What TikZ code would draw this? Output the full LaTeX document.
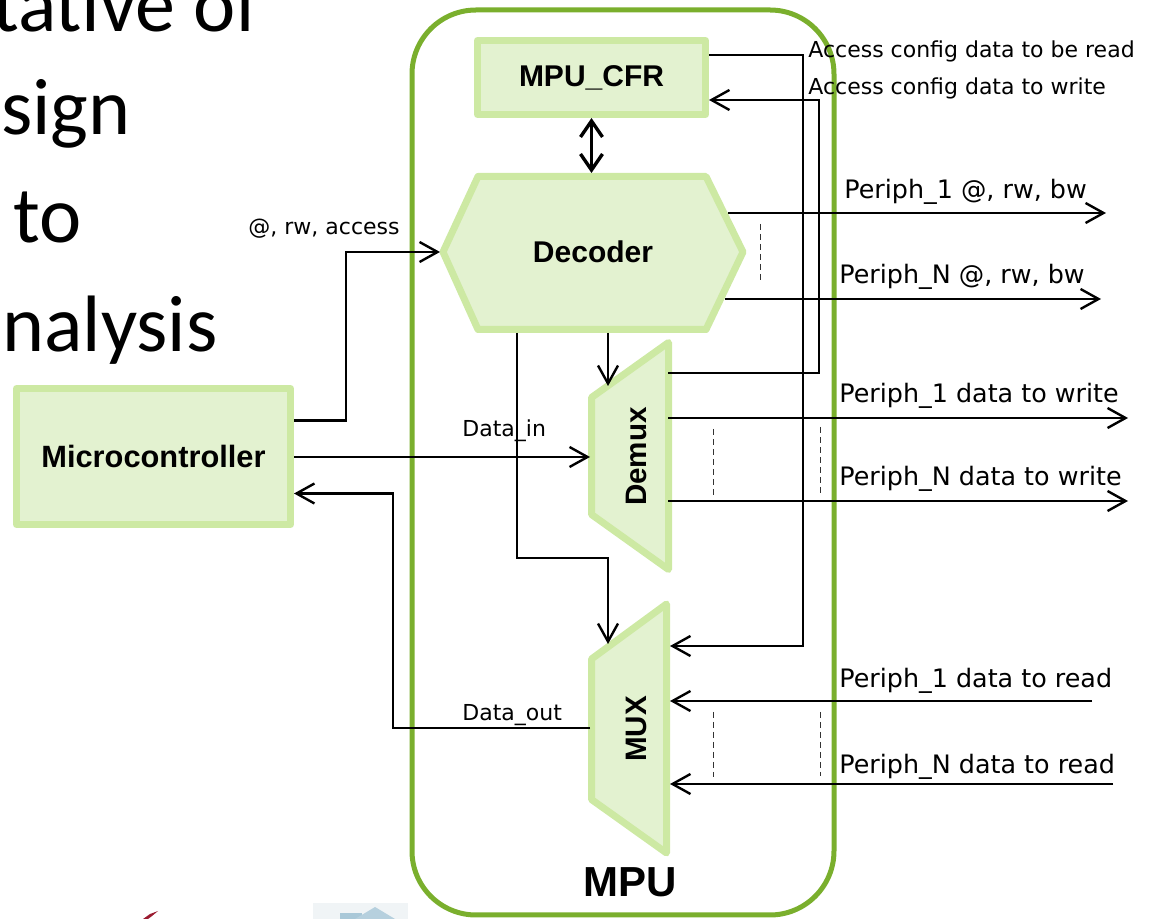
\documentclass[tikz,border=0pt]{standalone}
\usepackage{fontspec}
\setmainfont{DejaVu Sans}
\newfontfamily\arialf{Liberation Sans}
\newfontfamily\slidefont{Carlito}
\usetikzlibrary{arrows.meta}
\definecolor{mpugreen}{HTML}{7AAF2D}
\definecolor{boxfill}{HTML}{E3F2D0}
\definecolor{boxedge}{HTML}{CDE9A3}
\definecolor{logobg}{HTML}{F0F4F6}
\definecolor{logoblue}{HTML}{A9C8D8}
\definecolor{logored}{HTML}{9B1B30}
\tikzset{
  blk/.style={line width=1.2pt, draw=black},
  arr/.style={blk, -{Straight Barb[length=9pt,width=10pt]}},
  dbl/.style={line width=1.7pt, draw=black, {Straight Barb[length=8pt,width=11pt]}-{Straight Barb[length=8pt,width=11pt]}},
  shapebox/.style={fill=boxfill, draw=boxedge, line width=3.5pt, line join=round},
  boxtext/.style={font=\arialf\bfseries\fontsize{15}{18}\selectfont, inner sep=0pt},
  lbl/.style={font=\fontsize{11}{13}\selectfont, inner sep=0pt},
  plbl/.style={font=\fontsize{12.7}{15}\selectfont, inner sep=0pt},
  slide/.style={font=\slidefont\fontsize{40}{48}\selectfont, inner sep=0pt, anchor=base west},
  dashsty/.style={line width=0.5pt, draw=black!80, dash pattern=on 3pt off 2pt},
  mpubox/.style={draw=mpugreen, line width=2.5pt, rounded corners=32pt},
}
\begin{document}
\begin{tikzpicture}[x=0.5pt,y=-0.5pt]
\useasboundingbox (0,0) rectangle (1153,919);
\clip (0,0) rectangle (1153,919);

% slide fragments
\node[slide] (s1) at (-8,32) {tative of};
\node[slide] (s2) at (1,135) {sign};
\node[slide] (s3) at (13,243) {to};
\node[slide] (s4) at (2,352) {nalysis};

% logo fragments
\fill[logobg] (313,903) rectangle (408,919);
\fill[logoblue] (340,913) rectangle (362,919);
\fill[logoblue!85] (355,919) -- (375,907) -- (395,919) -- cycle;
\fill[logored] (143,919) -- (150,914) -- (158,911) -- (152,916) -- (148,919) -- cycle;

% MPU container
\draw[mpubox] (412,10) rectangle (834,915);
\node[anchor=base west, font=\arialf\bfseries\fontsize{21}{25}\selectfont, inner sep=0pt] (mpulbl) at (583,897) {MPU};

% blocks
\node[shapebox, minimum width=114pt, minimum height=37pt, boxtext] (cfr) at (591.5,77.5) {MPU\_CFR};
\node[shapebox, minimum width=137pt, minimum height=68pt, boxtext, font=\arialf\bfseries\fontsize{15.4}{18}\selectfont] (mc) at (153.5,456.5) {Microcontroller};

\draw[shapebox] (443,252) -- (478,176.5) -- (706,176.5) -- (743,252) -- (706,329.5) -- (478,329.5) -- cycle;
\node[boxtext] (dec) at (593,252) {Decoder};

\draw[shapebox] (591.5,397.5) -- (668.5,342.5) -- (668.5,569.5) -- (591.5,514.5) -- cycle;
\node[boxtext, font=\arialf\bfseries\fontsize{14.8}{17}\selectfont, rotate=90] (dmx) at (636,456.5) {Demux};

\draw[shapebox] (591.5,659) -- (666.5,604) -- (666.5,853) -- (591.5,799.5) -- cycle;
\node[boxtext, font=\arialf\bfseries\fontsize{14.8}{17}\selectfont, rotate=90] (mux) at (636,729) {MUX};

% ports
\coordinate (decT) at (593,173);
\coordinate (decL) at (440,252);
\coordinate (decB1) at (517,333);
\coordinate (decB2) at (608,333);
\coordinate (decR1) at (728,213);
\coordinate (decR2) at (725,299);
\coordinate (dmxT) at (608,386);
\coordinate (dmxL) at (590,457);
\coordinate (dmxR0) at (668,373);
\coordinate (dmxR1) at (668,418);
\coordinate (dmxRN) at (668,501);
\coordinate (muxT) at (608,644);
\coordinate (muxL) at (590,728);
\coordinate (muxR0) at (670,646);
\coordinate (muxR1) at (670,701);
\coordinate (muxRN) at (670,784);
\coordinate (p1a) at (1106,213);
\coordinate (pNa) at (1101,299);
\coordinate (p1w) at (1128,418);
\coordinate (pNw) at (1128,501);
\coordinate (p1r) at (1092,701);
\coordinate (pNr) at (1113,784);

% connectors
\draw[dbl] (cfr.south) -- (cfr.south |- decT);
\draw[arr] ([yshift=18pt]mc.east) -- ++(26pt,0) |- (decL);
\draw[arr] (mc.east |- dmxL) -- (dmxL);
\draw[arr] (muxL) -| (393,493.5) -- ([yshift=-18.5pt]mc.east);
\draw[arr] (decB2) -- (dmxT);
\draw[arr] (decB1) -- (517,558) -| (muxT);
\draw[arr] ([yshift=11.25pt]cfr.east) -- ++(47pt,0) |- (muxR0);
\draw[arr] (dmxR0) -| (819,100) -- ([yshift=-11.25pt]cfr.east);
\draw[arr] (decR1) -- (p1a);
\draw[arr] (decR2) -- (pNa);
\draw[arr] (dmxR1) -- (p1w);
\draw[arr] (dmxRN) -- (pNw);
\draw[arr] (p1r) -- (muxR1);
\draw[arr] (pNr) -- (muxRN);

% dashed ellipsis marks
\draw[dashsty] (760,224) -- (760,283);
\draw[dashsty] (713,429) -- (713,497);
\draw[dashsty] (820,427) -- (820,495);
\draw[dashsty] (713,712) -- (713,777);
\draw[dashsty] (820,712) -- (820,776);

% labels
\node[lbl, anchor=base east] (lacc) at (400,235) {@, rw, access};
\node[lbl, anchor=base west] (ldin) at (462,437) {Data\_in};
\node[lbl, anchor=base west] (ldout) at (462,721) {Data\_out};
\node[lbl, anchor=base west] (lrd) at (808,58) {Access config data to be read};
\node[lbl, anchor=base west] (lwr) at (808,95) {Access config data to write};
\node[plbl, anchor=base west] (lp1a) at (844,199) {Periph\_1 @, rw, bw};
\node[plbl, anchor=base west] (lpNa) at (839,284) {Periph\_N @, rw, bw};
\node[plbl, anchor=base west] (lp1w) at (839,403) {Periph\_1 data to write};
\node[plbl, anchor=base west] (lpNw) at (839,486) {Periph\_N data to write};
\node[plbl, anchor=base west] (lp1r) at (839,688) {Periph\_1 data to read};
\node[plbl, anchor=base west] (lpNr) at (839,774) {Periph\_N data to read};
\end{tikzpicture}
\end{document}
